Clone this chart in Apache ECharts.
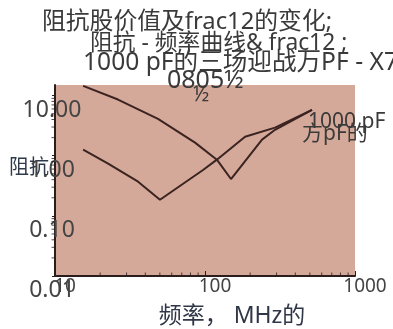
<!DOCTYPE html>
<html>
<head>
<meta charset="utf-8">
<script src="https://cdn.jsdelivr.net/npm/echarts@6/dist/echarts.min.js"></script>
<style>
html,body{margin:0;padding:0;background:#fff;}
#c{width:393px;height:329px;}
</style>
</head>
<body>
<div id="c"></div>
<script>
// Data
const freqA = [15.4, 26.3, 48.6, 85.8, 120, 149, 240, 293, 517];
const impA  = [14.5, 8.6, 4.1, 1.65, 0.86, 0.41, 1.85, 2.7, 5.8];
const freqB = [15.4, 22.6, 35.8, 50.1, 97, 120, 185, 293, 517];
const impB  = [1.26, 0.74, 0.37, 0.185, 0.58, 0.86, 2.07, 2.93, 5.8];
const minorTicksX = [20, 30, 40, 50, 60, 70, 80, 90, 200, 300, 400, 500, 600, 700, 800, 900];
const minorTicksY = [0.02, 0.03, 0.04, 0.05, 0.06, 0.07, 0.08, 0.09, 0.2, 0.3, 0.4, 0.5, 0.6, 0.7, 0.8, 0.9, 2, 3, 4, 5, 6, 7, 8, 9];
const titleLines = ['阻抗股价值及frac12的变化;', '阻抗 - 频率曲线& frac12 ;', '1000 pF的三场迎战万PF - X7R', '0805½', '½'];
const seriesNames = ['1000 pF', '方pF的'];
const xName = '频率， MHz的';
const yName = '阻抗';

const FONT = '"Noto Sans", "Noto Sans CJK SC", sans-serif';
const AXIS_COLOR = '#2a1d1b';
const chart = echarts.init(document.getElementById('c'), null, {renderer: 'canvas'});

function pairs(xs, ys) { return xs.map((x, i) => [x, ys[i]]); }

const titlePos = [
  {left: 42, top: 10, size: 23.8},
  {left: 90, top: 32, size: 22.8},
  {left: 83, top: 51, size: 24.6},
  {left: 167, top: 68, size: 25},
  {left: 193, top: 85, size: 21}
];

const option = {
  backgroundColor: '#ffffff',
  animation: false,
  title: titleLines.map((t, i) => ({
    text: t,
    left: titlePos[i].left,
    top: titlePos[i].top,
    padding: 0,
    textStyle: {fontFamily: FONT, fontSize: titlePos[i].size, fontWeight: 'normal', color: '#3a3a3a'}
  })),
  grid: {
    left: 55, right: 38, top: 85, bottom: 53,
    show: true, backgroundColor: '#d5a999', borderWidth: 0,
    containLabel: false, outerBoundsMode: 'none'
  },
  xAxis: {
    type: 'log', logBase: 10, min: 10, max: 1000,
    name: xName, nameLocation: 'middle', nameGap: 29, nameMoveOverlap: false,
    nameTextStyle: {fontFamily: FONT, fontSize: 23, color: '#2f3646', padding: [0, 0, 0, 54]},
    axisLine: {show: true, lineStyle: {color: AXIS_COLOR, width: 2}},
    axisTick: {show: true, inside: true, length: 5, lineStyle: {color: AXIS_COLOR}},
    splitLine: {show: false},
    axisLabel: {fontFamily: FONT, fontSize: 19, color: '#444', margin: 1, padding: [0, 0, 0, 20],
      formatter: v => String(Math.round(v))}
  },
  yAxis: {
    type: 'log', logBase: 10, min: 0.01, max: 15,
    name: yName, nameLocation: 'middle', nameRotate: 0, nameGap: 26, nameMoveOverlap: false,
    nameTextStyle: {fontFamily: FONT, fontSize: 20, color: '#2f3a4a', align: 'center', verticalAlign: 'bottom', padding: [0, 0, 2, 0]},
    axisLine: {show: true, lineStyle: {color: AXIS_COLOR, width: 2}},
    axisTick: {show: true, inside: false, length: 3, lineStyle: {color: AXIS_COLOR}},
    splitLine: {show: false},
    axisLabel: {fontFamily: FONT, fontSize: 23, color: '#444', margin: 3, align: 'center', verticalAlign: 'top',
      padding: [3, 0, 0, 0], showMaxLabel: false, formatter: v => v.toFixed(2)}
  },
  series: [
    {
      name: seriesNames[0], type: 'line', data: pairs(freqA, impA),
      showSymbol: false, symbol: 'none', smooth: false, z: 5,
      lineStyle: {color: '#3a2320', width: 2},
      endLabel: {show: true, formatter: seriesNames[0], fontFamily: FONT, fontSize: 21, color: '#3a3a3a', offset: [-4, 12], distance: 0}
    },
    {
      name: seriesNames[1], type: 'line', data: pairs(freqB, impB),
      showSymbol: false, symbol: 'none', smooth: false, z: 5,
      lineStyle: {color: '#3a2320', width: 2},
      endLabel: {show: true, formatter: seriesNames[1], fontFamily: FONT, fontSize: 21, color: '#3a3a3a', offset: [-10, 24], distance: 0}
    },
    {
      type: 'scatter', silent: true, clip: false, z: 6,
      data: minorTicksX.map(v => [v, 0.01]),
      symbol: 'rect', symbolSize: [1, 3], symbolOffset: [0, -2],
      itemStyle: {color: AXIS_COLOR}
    },
    {
      type: 'scatter', silent: true, clip: false, z: 6,
      data: minorTicksY.map(v => [10, v]),
      symbol: 'rect', symbolSize: [3, 1], symbolOffset: [-2, 0],
      itemStyle: {color: AXIS_COLOR}
    }
  ]
};
chart.setOption(option);
</script>
</body>
</html>
